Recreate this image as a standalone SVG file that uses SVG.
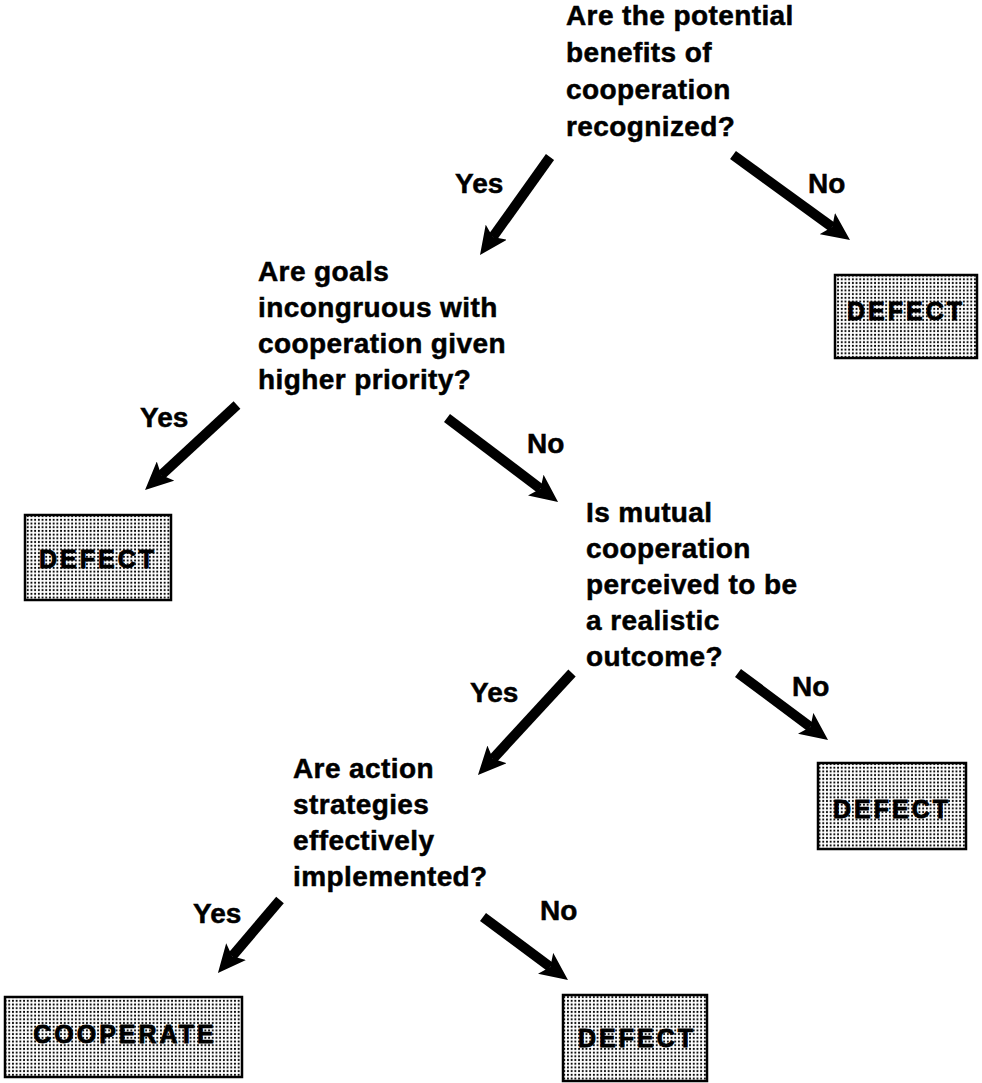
<svg xmlns="http://www.w3.org/2000/svg" width="982" height="1083" viewBox="0 0 982 1083">
  <style>
    .q { font-family: "Liberation Sans", Arial, sans-serif; font-weight: bold; font-size: 28px; letter-spacing: 0.4px; fill: #000; stroke: #000; stroke-width: 0.5; }
    .lbl { font-family: "Liberation Sans", Arial, sans-serif; font-weight: bold; font-size: 28px; fill: #000; stroke: #000; stroke-width: 0.5; }
    .bt { font-family: "Liberation Sans", Arial, sans-serif; font-weight: bold; font-size: 25px; letter-spacing: 3px; fill: #000; stroke: #000; stroke-width: 0.8; text-anchor: middle; }
    .box { fill: url(#dots); stroke: #000; stroke-width: 2.5; }
    .arr { stroke: #000; stroke-width: 10; fill: none; marker-end: url(#head); }
  </style>
  <defs>
    <pattern id="dots" width="3.7" height="3.7" patternUnits="userSpaceOnUse">
      <rect width="3.7" height="3.7" fill="#ffffff"/>
      <circle cx="1.85" cy="1.85" r="1.05" fill="#000"/>
    </pattern>
    <marker id="head" viewBox="0 0 28 26" refX="6" refY="13" markerWidth="28" markerHeight="26" markerUnits="userSpaceOnUse" orient="auto">
      <path d="M0,0 L28,13 L0,26 L6,13 z" fill="#000"/>
    </marker>
  </defs>
  <rect width="982" height="1083" fill="#fff"/>

  <g id="q1">
    <text class="q" x="566" y="25">Are the potential</text>
    <text class="q" x="566" y="62">benefits of</text>
    <text class="q" x="566" y="99">cooperation</text>
    <text class="q" x="566" y="136">recognized?</text>
  </g>
  <g id="q2">
    <text class="q" x="258" y="281">Are goals</text>
    <text class="q" x="258" y="317">incongruous with</text>
    <text class="q" x="258" y="353">cooperation given</text>
    <text class="q" x="258" y="389">higher priority?</text>
  </g>
  <g id="q3">
    <text class="q" x="586" y="522">Is mutual</text>
    <text class="q" x="586" y="558">cooperation</text>
    <text class="q" x="586" y="594">perceived to be</text>
    <text class="q" x="586" y="630">a realistic</text>
    <text class="q" x="586" y="666">outcome?</text>
  </g>
  <g id="q4">
    <text class="q" x="293" y="778">Are action</text>
    <text class="q" x="293" y="814">strategies</text>
    <text class="q" x="293" y="850">effectively</text>
    <text class="q" x="293" y="886">implemented?</text>
  </g>

  <g id="defect1">
    <rect class="box" x="835" y="275" width="142" height="83"/>
    <text class="bt" x="906" y="320">DEFECT</text>
  </g>
  <g id="defect2">
    <rect class="box" x="25" y="515" width="146" height="85"/>
    <text class="bt" x="98" y="568">DEFECT</text>
  </g>
  <g id="defect3">
    <rect class="box" x="818" y="763" width="148" height="86"/>
    <text class="bt" x="892" y="818">DEFECT</text>
  </g>
  <g id="cooperate">
    <rect class="box" x="5" y="997" width="237" height="80"/>
    <text class="bt" x="125" y="1043">COOPERATE</text>
  </g>
  <g id="defect4">
    <rect class="box" x="563" y="995" width="144" height="86"/>
    <text class="bt" x="637" y="1047">DEFECT</text>
  </g>

  <g id="connectors">
    <line class="arr" x1="550" y1="157" x2="492.8" y2="237.1"/>
    <line class="arr" x1="733" y1="155" x2="832.2" y2="227.1"/>
    <line class="arr" x1="237" y1="405" x2="161.2" y2="475.1"/>
    <line class="arr" x1="447" y1="418" x2="540.5" y2="488.7"/>
    <line class="arr" x1="572" y1="673" x2="492.9" y2="758.8"/>
    <line class="arr" x1="738" y1="673" x2="810.4" y2="726.9"/>
    <line class="arr" x1="280" y1="900" x2="232.2" y2="956.2"/>
    <line class="arr" x1="483" y1="917" x2="550.3" y2="966.9"/>
    <text class="lbl" x="455" y="193">Yes</text>
    <text class="lbl" x="808" y="193">No</text>
    <text class="lbl" x="140" y="427">Yes</text>
    <text class="lbl" x="527" y="453">No</text>
    <text class="lbl" x="470" y="702">Yes</text>
    <text class="lbl" x="792" y="696">No</text>
    <text class="lbl" x="193" y="923">Yes</text>
    <text class="lbl" x="540" y="920">No</text>
  </g>
</svg>
